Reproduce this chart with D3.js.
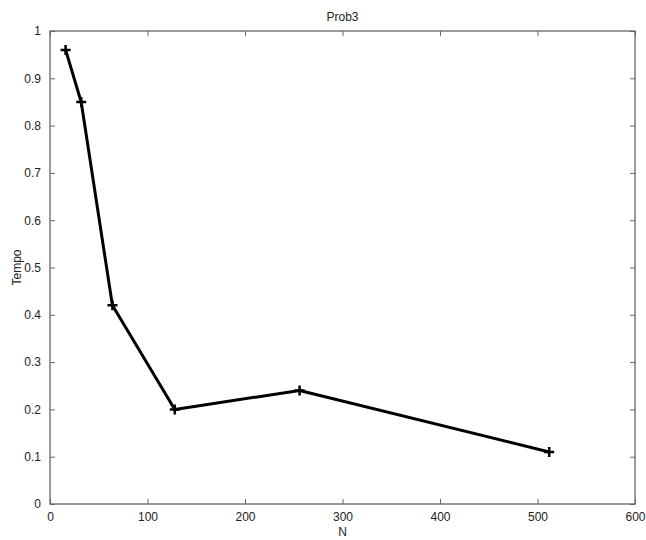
<!DOCTYPE html>
<html><head><meta charset="utf-8">
<script src="https://cdn.jsdelivr.net/npm/d3@7"></script>
<style>body{margin:0;background:#fff}svg text{font-family:"Liberation Sans",Arial,sans-serif;font-size:12px;fill:#222}</style>
</head><body><div id="c"></div>
<script>
const nValues = [16, 32, 64, 128, 256, 512];
const tempo = [0.96, 0.85, 0.42, 0.20, 0.24, 0.11];
const xTicks = [0, 100, 200, 300, 400, 500, 600];
const yTicks = [0, 0.1, 0.2, 0.3, 0.4, 0.5, 0.6, 0.7, 0.8, 0.9, 1];
const title = "Prob3", xLabel = "N", yLabel = "Tempo";

const W = 646, H = 540;
const m = {l: 50, r: 11, t: 31, b: 36};
const svg = d3.select("#c").append("svg").attr("width", W).attr("height", H);
const x = d3.scaleLinear().domain([0, 600]).range([m.l, W - m.r]);
const y = d3.scaleLinear().domain([0, 1]).range([H - m.b, m.t]);
const axisColor = "#666";

function styleAx(g){ g.select(".domain").remove(); g.selectAll(".tick line").attr("stroke", axisColor); }

svg.append("g").attr("transform", `translate(0,${y(0)})`)
  .call(d3.axisBottom(x).tickValues(xTicks).tickSize(-5).tickPadding(8).tickFormat(d3.format("d")))
  .call(styleAx);
svg.append("g").attr("transform", `translate(0,${y(1)})`)
  .call(d3.axisTop(x).tickValues(xTicks).tickSize(-5).tickFormat(""))
  .call(styleAx);
svg.append("g").attr("transform", `translate(${x(0)},0)`)
  .call(d3.axisLeft(y).tickValues(yTicks).tickSize(-5).tickPadding(9).tickFormat(d => d === 0 || d === 1 ? d3.format("d")(d) : d3.format(".1f")(d)))
  .call(styleAx);
svg.append("g").attr("transform", `translate(${x(600)},0)`)
  .call(d3.axisRight(y).tickValues(yTicks).tickSize(-5).tickFormat(""))
  .call(styleAx);
svg.selectAll(".tick text").attr("fill", "#222").style("font-size", "12px").style("font-family", '"Liberation Sans",Arial,sans-serif');

svg.append("rect").attr("x", x(0)).attr("y", y(1)).attr("width", x(600) - x(0)).attr("height", y(0) - y(1))
  .attr("fill", "none").attr("stroke", axisColor).attr("stroke-width", 1.3);

const pts = nValues.map((n, i) => [n, tempo[i]]);
svg.append("path").datum(pts)
  .attr("d", d3.line().x(d => x(d[0])).y(d => y(d[1])))
  .attr("fill", "none").attr("stroke", "#000").attr("stroke-width", 3).attr("stroke-linejoin", "round");
const mk = svg.append("g").selectAll("g").data(pts).join("g")
  .attr("transform", d => `translate(${x(d[0])},${y(d[1])})`);
mk.append("path").attr("d", "M-5,0H5M0,-5V5").attr("stroke", "#000").attr("stroke-width", 2.5);

svg.append("text").attr("x", (x(0) + x(600)) / 2).attr("y", 21).attr("text-anchor", "middle").text(title);
svg.append("text").attr("x", (x(0) + x(600)) / 2).attr("y", 536).attr("text-anchor", "middle").text(xLabel);
svg.append("text").attr("transform", `translate(21,${(y(0) + y(1)) / 2}) rotate(-90)`).attr("text-anchor", "middle").text(yLabel);
</script></body></html>
